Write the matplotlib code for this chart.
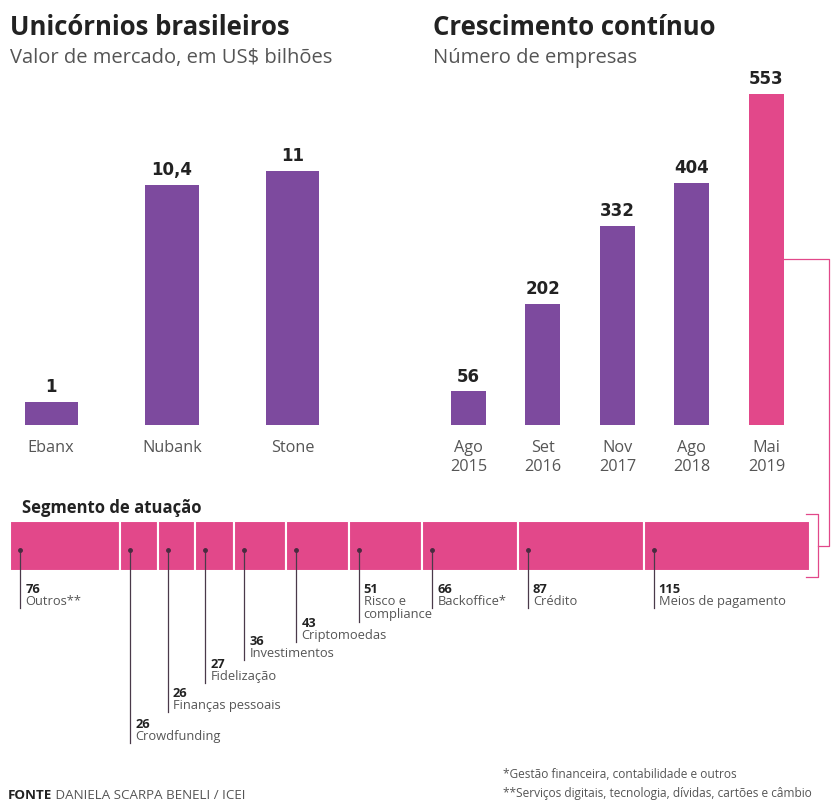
import matplotlib
matplotlib.use('Agg')
from matplotlib import pyplot as plt
from matplotlib import transforms
import numpy as np

# ---- data ----
unicornios = ['Ebanx', 'Nubank', 'Stone']
valor_mercado = [1, 10.4, 11]
valor_rotulos = ['1', '10,4', '11']

periodos = ['Ago\n2015', 'Set\n2016', 'Nov\n2017', 'Ago\n2018', 'Mai\n2019']
num_empresas = [56, 202, 332, 404, 553]

segmentos = ['Outros**', 'Crowdfunding', 'Finanças pessoais', 'Fidelização',
             'Investimentos', 'Criptomoedas', 'Risco e\ncompliance', 'Backoffice*',
             'Crédito', 'Meios de pagamento']
seg_valores = [76, 26, 26, 27, 36, 43, 51, 66, 87, 115]

# ---- layout / style ----
W, H = 833, 803
PURPLE = '#7d4a9e'
PINK = '#e2488a'
DARK = '#222222'
GRAY = '#555555'
FONT = 'Open Sans'
# top of each segment label (px from top of image)
seg_label_y = [583, 718, 687, 658, 635, 617, 583, 583, 583, 583]

plt.rcParams['font.family'] = [FONT, 'DejaVu Sans']

fig = plt.figure(figsize=(W / 100, H / 100), dpi=100)


def px_axes(x0, y0, x1, y1):
    # box in image pixels (origin top-left) -> axes
    return fig.add_axes([x0 / W, 1 - y1 / H, (x1 - x0) / W, (y1 - y0) / H])


def clean(ax):
    for s in ax.spines.values():
        s.set_visible(False)
    ax.set_yticks([])
    ax.tick_params(axis='x', length=0, pad=10, labelsize=11.7, labelcolor=GRAY)


# left chart
ax1 = px_axes(10, 126, 340, 426)
ax1.bar(range(len(unicornios)), valor_mercado, width=0.44, color=PURPLE)
ax1.set_xlim(-0.34, 2.39)
ax1.set_ylim(0, 300 / 23.1)
ax1.set_xticks(range(len(unicornios)), unicornios)
clean(ax1)
for i, v in enumerate(valor_mercado):
    ax1.annotate(valor_rotulos[i], (i, v), xytext=(0, 5), textcoords='offset points',
                 ha='center', va='bottom', fontsize=12, fontweight='bold',
                 color=DARK, family='DejaVu Sans')

# right chart
ax2 = px_axes(440, 66, 800, 426)
cores = [PURPLE] * (len(periodos) - 1) + [PINK]
ax2.bar(range(len(periodos)), num_empresas, width=0.47, color=cores)
ax2.set_xlim(-0.38, 4.45)
ax2.set_ylim(0, 360 / 0.5986)
ax2.set_xticks(range(len(periodos)), periodos, linespacing=1.25)
clean(ax2)
for i, v in enumerate(num_empresas):
    ax2.annotate(str(v), (i, v), xytext=(0, 5), textcoords='offset points',
                 ha='center', va='bottom', fontsize=12, fontweight='bold',
                 color=DARK, family='DejaVu Sans')

# segment bar
ax3 = px_axes(10, 522, 810, 572)
lefts = np.concatenate([[0], np.cumsum(seg_valores)[:-1]])
ax3.barh(0, seg_valores, left=lefts, height=1, color=PINK,
         edgecolor='white', linewidth=1.5)
ax3.set_xlim(0, sum(seg_valores))
ax3.set_ylim(-0.5, 0.5)
ax3.axis('off')

# overlay in image pixels
ov = fig.add_axes([0, 0, 1, 1], zorder=5)
ov.set_xlim(0, W)
ov.set_ylim(H, 0)
ov.axis('off')

ov.text(10, 35, 'Unicórnios brasileiros', fontsize=18.5, fontweight='bold', color=DARK)
ov.text(10, 63, 'Valor de mercado, em US$ bilhões', fontsize=14.5, color=GRAY)
ov.text(433, 35, 'Crescimento contínuo', fontsize=18.5, fontweight='bold', color=DARK)
ov.text(433, 63, 'Número de empresas', fontsize=14.5, color=GRAY)
ov.text(22, 513, 'Segmento de atuação', fontsize=12, fontweight='bold', color=DARK)

blend = transforms.blended_transform_factory(ax3.transData, ov.transData)
txt_tr = transforms.offset_copy(blend, fig=fig, x=5, y=0, units='dots')
for i, nome in enumerate(segmentos):
    x = lefts[i] + 7
    top = seg_label_y[i]
    fim = top + (40 if '\n' in nome else 26)
    ov.plot([x, x], [551, fim], color='#4a3a4a', lw=0.9, transform=blend)
    ov.plot(x, 551, 'o', ms=2.5, color='#4a2a40', transform=blend)
    ov.text(x, top, str(seg_valores[i]), transform=txt_tr, va='top', ha='left',
            fontsize=9.3, fontweight='bold', color=DARK)
    ov.text(x, top + 12, nome, transform=txt_tr, va='top', ha='left',
            fontsize=9.3, color=GRAY, linespacing=1.0)


def to_px(ax, x, y):
    dx, dy = ax.transData.transform((x, y))
    return dx, H - dy


# connector from last bar to segment bar
bx, by = to_px(ax2, len(periodos) - 1 + 0.47 / 2, num_empresas[-1] / 2)
sx, sy = to_px(ax3, sum(seg_valores), 0)
ov.plot([bx, 829, 829, sx + 8], [by, by, sy, sy], color=PINK, lw=0.9)
ov.plot([sx - 4, sx + 8, sx + 8, sx - 4], [sy - 32, sy - 32, sy + 31, sy + 31],
        color=PINK, lw=0.9)

# footer
t1 = ov.text(8, 799, 'FONTE', fontsize=9.6, fontweight='bold', color=DARK)
ov.annotate(' DANIELA SCARPA BENELI / ICEI', xy=(1, 0), xycoords=t1, va='bottom',
            fontsize=9.6, color=GRAY)
ov.text(503, 778, '*Gestão financeira, contabilidade e outros', fontsize=8.6,
        color=GRAY)
ov.text(503, 797, '**Serviços digitais, tecnologia, dívidas, cartões e câmbio',
        fontsize=8.6, color=GRAY)

fig.savefig('out.png', dpi=100)
